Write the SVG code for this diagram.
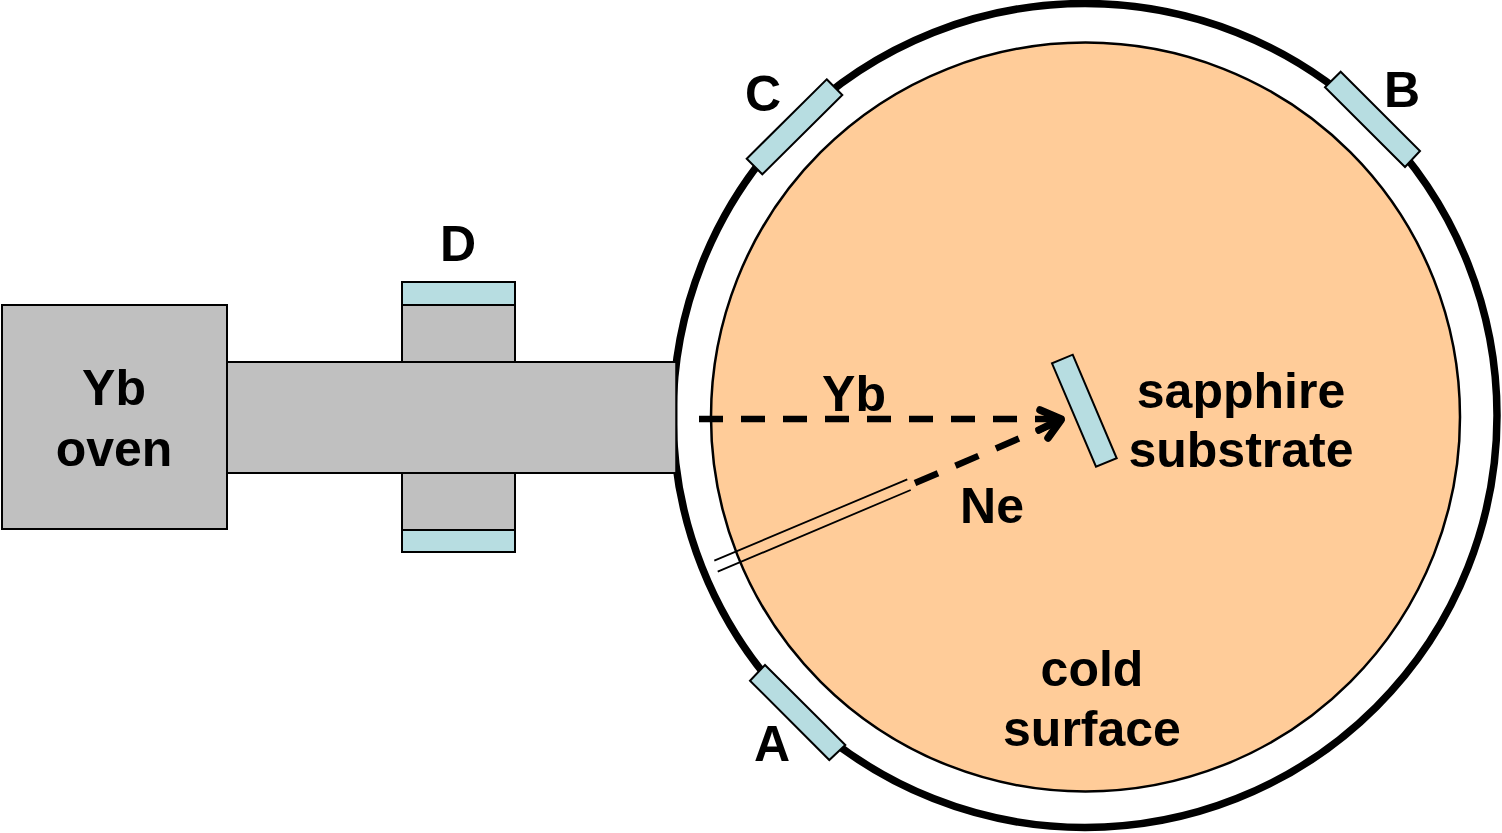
<svg xmlns="http://www.w3.org/2000/svg" width="1502" height="833" viewBox="0 0 1502 833">
<style>
text{font-family:"Liberation Sans",Arial,sans-serif;font-weight:700;font-size:50px;fill:#000;text-anchor:middle}
.g{fill:#c0c0c0;stroke:#000;stroke-width:2}
.t{fill:#b7dde1;stroke:#000;stroke-width:2}
.d{fill:none;stroke:#000;stroke-width:6.500}
.n{fill:none;stroke:#000;stroke-width:1.800}
.h{fill:none;stroke:#000;stroke-width:7.500;stroke-linecap:round;stroke-linejoin:round}
</style>
<rect width="1502" height="833" fill="#fff"/>
<g id="chamber"><circle cx="1085" cy="415.500" r="412" fill="#fff" stroke="#000" stroke-width="7.500"/></g>
<g id="cold-surface"><circle cx="1085.500" cy="417" r="374.500" fill="#ffcc99" stroke="#000" stroke-width="2.500"/>
<text x="1092" y="686">cold</text><text x="1092" y="746">surface</text></g>
<g id="flange"><rect class="g" x="402" y="305" width="113" height="225"/>
<rect class="t" x="402" y="282" width="113" height="23"/><rect class="t" x="402" y="530" width="113" height="22"/>
<text x="458" y="261">D</text></g>
<g id="tube"><rect x="227" y="362" width="448.500" height="111" fill="#c0c0c0"/><path d="M227 362H677M227 473H677" fill="none" stroke="#000" stroke-width="2"/><path d="M676.500 362V473" fill="none" stroke="#000" stroke-width="2"/></g>
<g id="oven"><rect class="g" x="2" y="305" width="225" height="224"/><text x="114" y="405">Yb</text><text x="114" y="466">oven</text></g>
<g id="sensor-a"><polygon class="t" points="765,665 845.300,745 829.300,760 750,680.700"/><text x="772" y="761">A</text></g>
<g id="sensor-b"><polygon class="t" points="1340.700,71.700 1420,151 1405,167 1325,87.300"/><text x="1402" y="107">B</text></g>
<g id="sensor-c"><polygon class="t" points="826.700,79.300 842.300,95 762.300,174.300 746.700,158.700"/><text x="763" y="111">C</text></g>
<g id="substrate"><polygon class="t" points="1072.700,354.700 1116.700,458.300 1096,466.700 1052,363.300"/><text x="1241" y="408">sapphire</text><text x="1241" y="467">substrate</text></g>
<g id="connectors">
<path class="d" stroke-dasharray="24 18" d="M699 419H1060"/>
<path class="h" d="M1040 410L1061 419L1039 430"/>
<path class="d" stroke-width="7" stroke-dasharray="25 19" d="M915 483L1060 421"/>
<path class="h" d="M1061 420L1048 438"/>
<path class="n" d="M714.300 560.700L907.300 479.300M717.700 571.700L910.700 490"/>
</g>
<g id="labels"><text x="854" y="411">Yb</text><text x="992" y="523">Ne</text></g>
</svg>
